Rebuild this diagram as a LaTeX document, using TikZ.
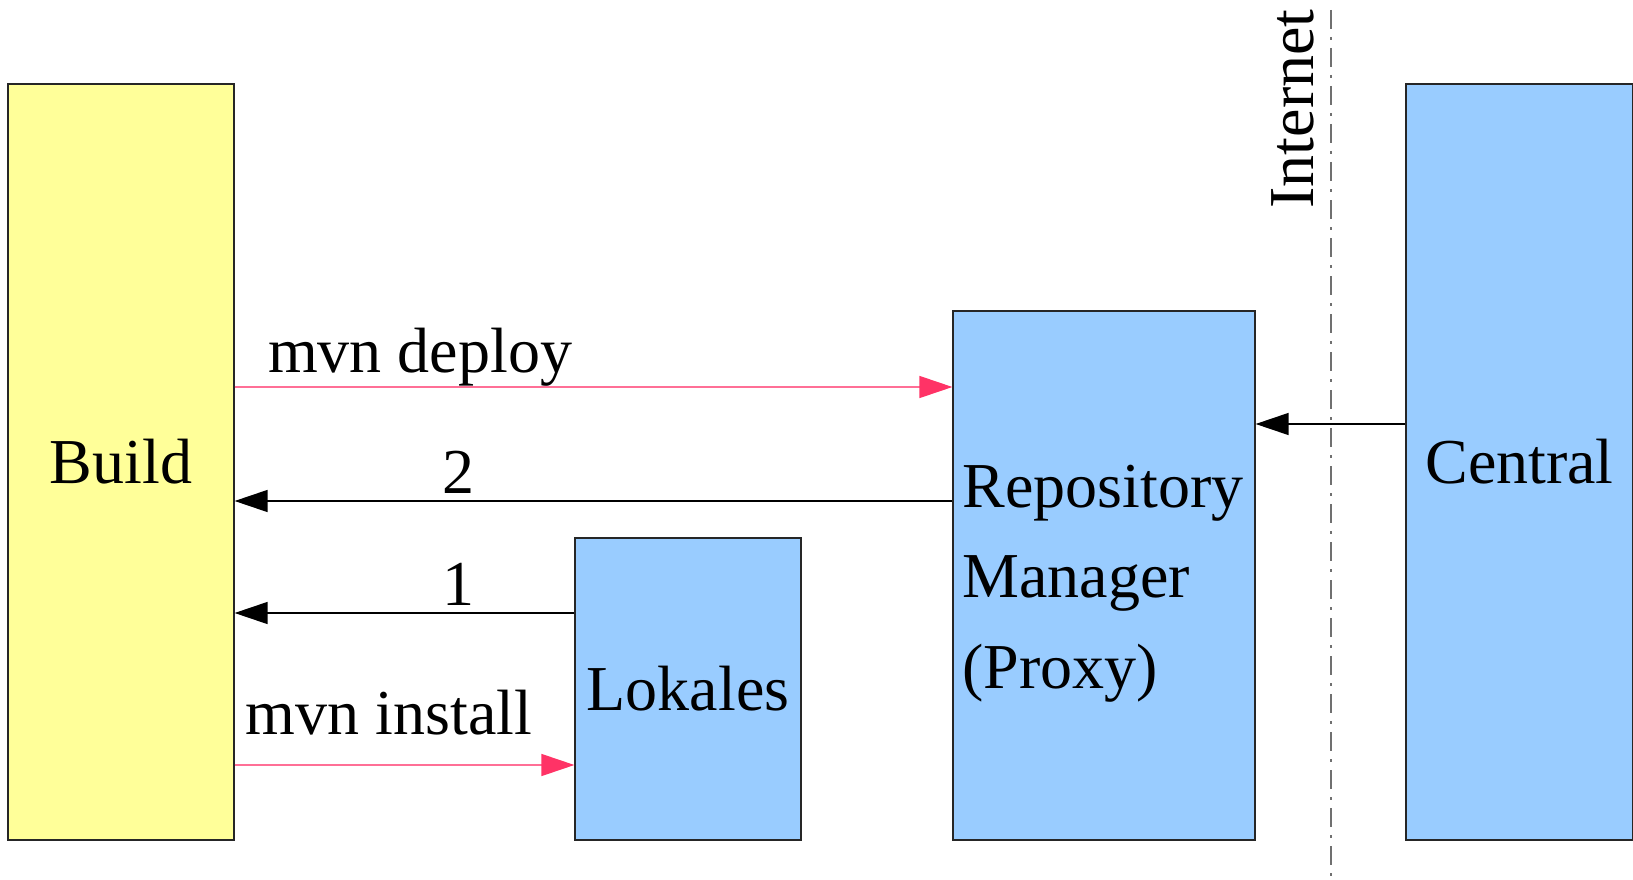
\documentclass[tikz,border=0pt]{standalone}
\usepackage{fontspec}
\setmainfont{Liberation Serif}
\usetikzlibrary{arrows.meta}
\definecolor{buildyellow}{HTML}{FFFF99}
\definecolor{repoblue}{HTML}{99CCFF}
\definecolor{deploypink}{HTML}{FF3366}
\definecolor{pinkline}{HTML}{FF6F96}
\definecolor{sepgray}{HTML}{707070}
\tikzset{
  box/.style={draw=black!85, line width=1.2pt, inner sep=0pt, font=\fontsize{64}{91}\selectfont},
  lbl/.style={font=\fontsize{64}{77}\selectfont, anchor=base, inner sep=0pt},
  pinkarrow/.style={draw=pinkline, line width=1.3pt, -{Triangle[length=33pt,width=22pt,color=deploypink,fill=deploypink]}},
  blackarrow/.style={draw=black, line width=1.3pt, -{Triangle[length=33pt,width=22pt]}},
  sepline/.style={draw=sepgray, line width=1.4pt, dash pattern=on 19pt off 8pt on 3pt off 8pt}
}
\begin{document}
\begin{tikzpicture}[x=1pt,y=-1pt]
\useasboundingbox (0,0) rectangle (1633,880);
\node[box, fill=buildyellow, minimum width=226pt, minimum height=756pt] (build) at (121,462) {Build};
\node[box, fill=repoblue, minimum width=302pt, minimum height=529pt] (repo) at (1104,575.5) {};
\node[font=\fontsize{64}{90.5}\selectfont, inner sep=0pt, anchor=west, align=left] (repotext) at ([xshift=10pt,yshift=-8pt]repo.west) {Repository\\Manager\\(Proxy)};
\node[box, fill=repoblue, minimum width=226pt, minimum height=302pt] (lokal) at (688,689) {Lokales};
\node[box, fill=repoblue, minimum width=227pt, minimum height=756pt] (central) at (1519.5,462) {Central};
\node[font=\fontsize{64}{77}\selectfont, rotate=90, inner sep=0pt] (internet) at (1293,109) {Internet};
\coordinate (septop) at (1331,10);
\coordinate (sepbot) at (1331,880);
\draw[sepline] (septop) -- (sepbot);
% arrows
\draw[pinkarrow] (build.east |- 0,387) -- (repo.west |- 0,387);
\draw[blackarrow] (repo.west |- 0,501) -- (build.east |- 0,501);
\draw[blackarrow] (lokal.west |- 0,613) -- (build.east |- 0,613);
\draw[pinkarrow] (build.east |- 0,765) -- (lokal.west |- 0,765);
\draw[blackarrow] (central.west |- 0,424) -- (repo.east |- 0,424);
% labels
\node[lbl] (ldeploy) at (420,372) {mvn deploy};
\node[lbl] (ltwo) at (458,493) {2};
\node[lbl] (lone) at (458,605) {1};
\node[lbl] (linstall) at (389,734) {mvn install};
\end{tikzpicture}
\end{document}
